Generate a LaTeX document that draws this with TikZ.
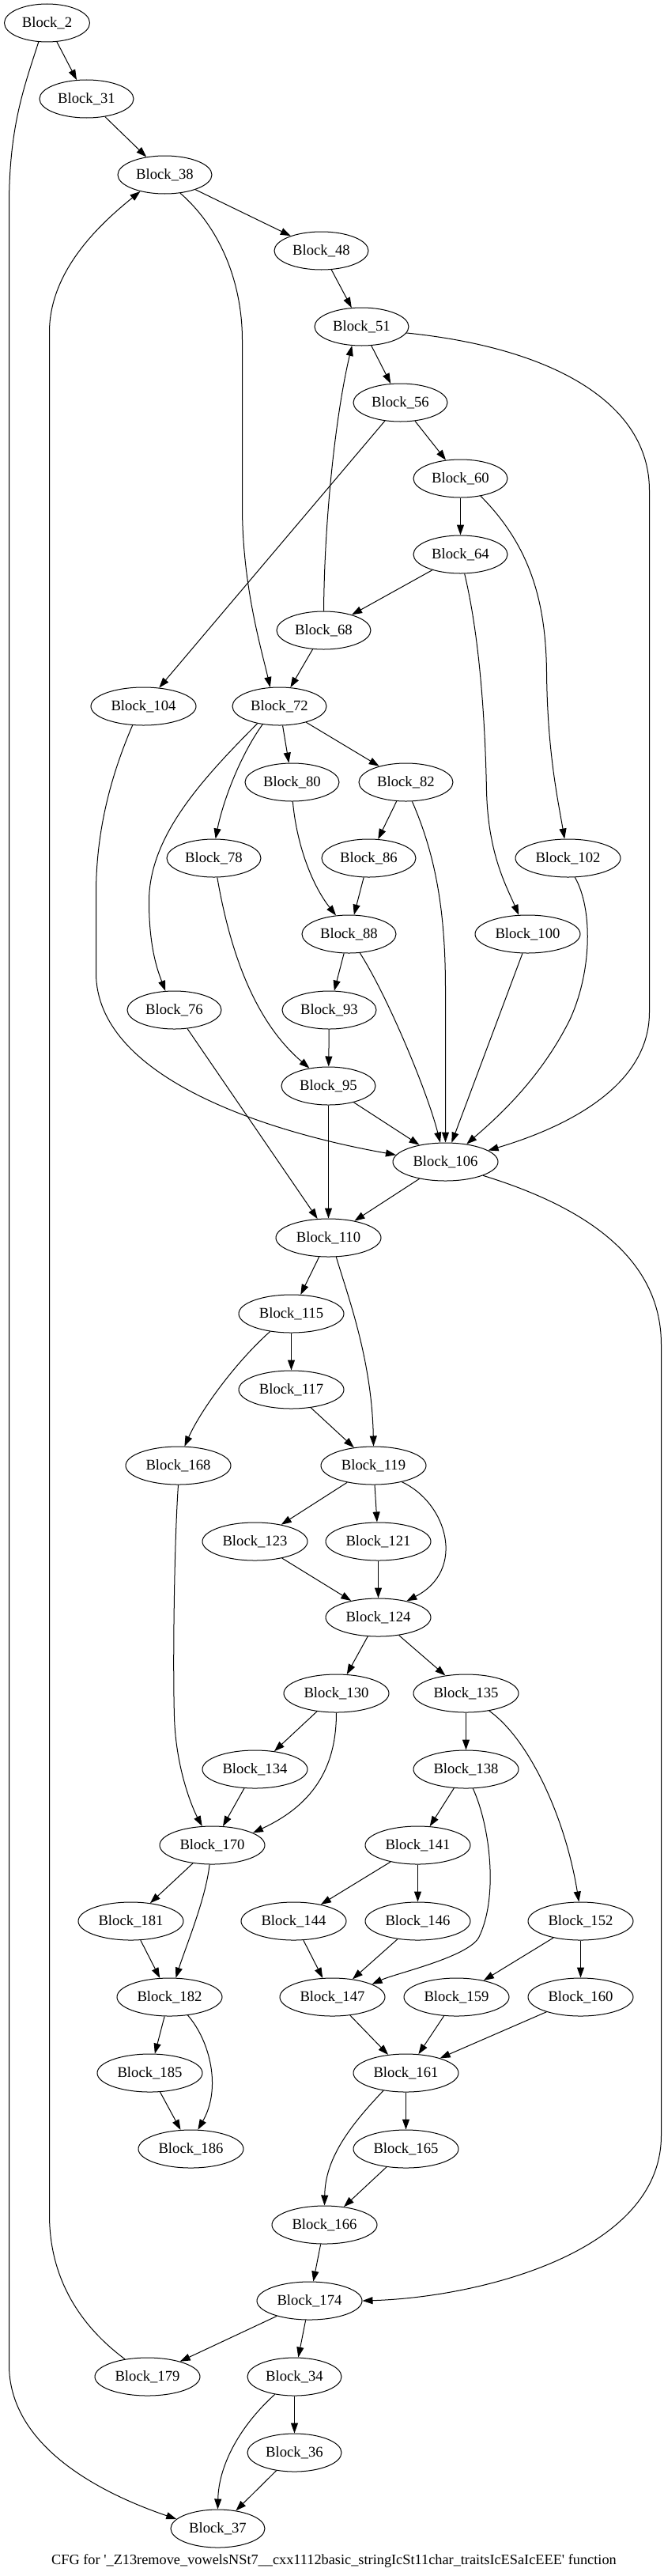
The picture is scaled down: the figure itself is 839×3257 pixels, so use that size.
\documentclass[tikz,border=0pt]{standalone}
\usepackage{fontspec}
\setmainfont{Liberation Serif}[Ligatures=TeXOff]
\usetikzlibrary{shapes.geometric,arrows.meta}
\begin{document}
\begin{tikzpicture}[x=1pt,y=-1pt,
  blk/.style={draw,ellipse,line width=1pt,minimum height=48pt,inner sep=0pt,font=\fontsize{18.67}{22}\selectfont},
  wa/.style={blk,minimum width=108pt},
  wb/.style={blk,minimum width=119pt},
  wc/.style={blk,minimum width=133pt},
  edge/.style={draw,line width=1pt,-{Triangle[length=13pt,width=9pt]}}]
\path[use as bounding box] (-0.5,0) rectangle (838.5,3257);
\node[wa] (b2) at (59,29) {Block\_2};
\node[wb] (b31) at (109,125) {Block\_31};
\node[wb] (b38) at (208,221) {Block\_38};
\node[wb] (b48) at (406,317) {Block\_48};
\node[wb] (b51) at (457,413) {Block\_51};
\node[wb] (b56) at (506,509) {Block\_56};
\node[wb] (b60) at (582,605) {Block\_60};
\node[wb] (b64) at (582,701) {Block\_64};
\node[wb] (b68) at (409,797) {Block\_68};
\node[wc] (b104) at (181,893) {Block\_104};
\node[wb] (b72) at (353,893) {Block\_72};
\node[wb] (b80) at (369,989) {Block\_80};
\node[wb] (b82) at (513,989) {Block\_82};
\node[wb] (b78) at (270,1085) {Block\_78};
\node[wb] (b86) at (466,1085) {Block\_86};
\node[wc] (b102) at (718,1085) {Block\_102};
\node[wb] (b88) at (441,1181) {Block\_88};
\node[wc] (b100) at (667,1181) {Block\_100};
\node[wb] (b76) at (220,1277) {Block\_76};
\node[wb] (b93) at (416,1277) {Block\_93};
\node[wb] (b95) at (415,1373) {Block\_95};
\node[wc] (b106) at (563,1469) {Block\_106};
\node[wc] (b110) at (415,1565) {Block\_110};
\node[wc] (b115) at (368,1661) {Block\_115};
\node[wc] (b117) at (368,1757) {Block\_117};
\node[wc] (b168) at (225,1853) {Block\_168};
\node[wc] (b119) at (472,1853) {Block\_119};
\node[wc] (b123) at (322,1949) {Block\_123};
\node[wc] (b121) at (478,1949) {Block\_121};
\node[wc] (b124) at (478,2045) {Block\_124};
\node[wc] (b130) at (425,2141) {Block\_130};
\node[wc] (b135) at (589,2141) {Block\_135};
\node[wc] (b134) at (322,2237) {Block\_134};
\node[wc] (b138) at (589,2237) {Block\_138};
\node[wc] (b170) at (268,2333) {Block\_170};
\node[wc] (b141) at (528,2333) {Block\_141};
\node[wc] (b181) at (165,2429) {Block\_181};
\node[wc] (b144) at (371,2429) {Block\_144};
\node[wc] (b146) at (528,2429) {Block\_146};
\node[wc] (b152) at (734,2429) {Block\_152};
\node[wc] (b182) at (214,2525) {Block\_182};
\node[wc] (b147) at (420,2525) {Block\_147};
\node[wc] (b159) at (577,2525) {Block\_159};
\node[wc] (b160) at (734,2525) {Block\_160};
\node[wc] (b185) at (189,2621) {Block\_185};
\node[wc] (b161) at (513,2621) {Block\_161};
\node[wc] (b186) at (241,2717) {Block\_186};
\node[wc] (b165) at (513,2717) {Block\_165};
\node[wc] (b166) at (410,2813) {Block\_166};
\node[wc] (b174) at (391,2909) {Block\_174};
\node[wc] (b179) at (186,3005) {Block\_179};
\node[wb] (b34) at (372,3005) {Block\_34};
\node[wb] (b36) at (372,3101) {Block\_36};
\node[wb] (b37) at (275,3197) {Block\_37};
\node[font=\fontsize{18.3}{22}\selectfont,inner sep=0pt] (cap) at (422,3238) {CFG for '\_Z13remove\_vowelsNSt7\_\_cxx1112basic\_stringIcSt11char\_traitsIcESaIcEEE' function};

% straight edges
\path[edge] (b2) -- (b31);
\path[edge] (b31) -- (b38);
\path[edge] (b38) -- (b48);
\path[edge] (b48) -- (b51);
\path[edge] (b51) -- (b56);
\path[edge] (b56) -- (b60);
\path[edge] (b56) -- (b104);
\path[edge] (b60) -- (b64);
\path[edge] (b64) -- (b68);
\path[edge] (b68) -- (b72);
\path[edge] (b72) -- (b80);
\path[edge] (b72) -- (b82);
\path[edge] (b82) -- (b86);
\path[edge] (b86) -- (b88);
\path[edge] (b88) -- (b93);
\path[edge] (b93) -- (b95);
\path[edge] (b95) -- (b106);
\path[edge] (b95) -- (b110);
\path[edge] (b106) -- (b110);
\path[edge] (b76.-55) -- (b110.120);
\path[edge] (b110) -- (b115);
\path[edge] (b115) -- (b117);
\path[edge] (b117) -- (b119);
\path[edge] (b119) -- (b123);
\path[edge] (b119) -- (b121);
\path[edge] (b123) -- (b124);
\path[edge] (b121) -- (b124);
\path[edge] (b124) -- (b130);
\path[edge] (b124) -- (b135);
\path[edge] (b130) -- (b134);
\path[edge] (b134) -- (b170);
\path[edge] (b135) -- (b138);
\path[edge] (b138) -- (b141);
\path[edge] (b170) -- (b181);
\path[edge] (b141) -- (b144);
\path[edge] (b141) -- (b146);
\path[edge] (b152) -- (b159);
\path[edge] (b152) -- (b160);
\path[edge] (b181) -- (b182);
\path[edge] (b144) -- (b147);
\path[edge] (b146) -- (b147);
\path[edge] (b182) -- (b185);
\path[edge] (b147) -- (b161);
\path[edge] (b159) -- (b161);
\path[edge] (b160) -- (b161);
\path[edge] (b185) -- (b186);
\path[edge] (b161) -- (b165);
\path[edge] (b165) -- (b166);
\path[edge] (b166) -- (b174);
\path[edge] (b174) -- (b179);
\path[edge] (b174) -- (b34);
\path[edge] (b34) -- (b36);
\path[edge] (b36) -- (b37);
\path[edge] (b100.-105) -- (b106.72);

% curved edges
\path[edge] (b2.-114) .. controls (30,110) and (11,160) .. (11,260) -- (11,2990) .. controls (11,3090) and (120,3150) .. (b37.167);
\path[edge] (b38.-50) .. controls (280,290) and (306,360) .. (306,430) -- (306,640) .. controls (306,740) and (330,820) .. (b72.116);
\path[edge] (b179.142) .. controls (100,2940) and (62,2880) .. (62,2800) -- (62,420) .. controls (62,340) and (130,280) .. (b38.-146);
\path[edge] (b51.-8) .. controls (700,440) and (821,510) .. (821,620) -- (821,1280) .. controls (821,1380) and (700,1430) .. (b106.15);
\path[edge] (b68.north) .. controls (410,650) and (425,520) .. (b51.-117);
\path[edge] (b60.-41) .. controls (670,690) and (690,760) .. (691,850) .. controls (692,950) and (705,1010) .. (b102.100);
\path[edge] (b64.-78) .. controls (605,800) and (613,900) .. (615,1000) .. controls (617,1080) and (640,1120) .. (b100.115);
\path[edge] (b104.-120) .. controls (140,980) and (121,1050) .. (121,1130) -- (121,1230) .. controls (121,1360) and (330,1430) .. (b106.172);
\path[edge] (b72.-133) .. controls (300,960) and (280,1020) .. (b78.85);
\path[edge] (b72.-142) .. controls (250,990) and (188,1060) .. (188,1140) .. controls (188,1200) and (200,1230) .. (b76.115);
\path[edge] (b80.-88) .. controls (375,1070) and (395,1120) .. (b88.125);
\path[edge] (b82.-72) .. controls (550,1080) and (563,1150) .. (563,1250) -- (b106.north);
\path[edge] (b102.-70) .. controls (750,1150) and (748,1230) .. (720,1290) .. controls (680,1370) and (620,1420) .. (b106.40);
\path[edge] (b78.-80) .. controls (290,1200) and (320,1290) .. (b95.137);
\path[edge] (b88.-60) .. controls (490,1260) and (540,1380) .. (b106.105);
\path[edge] (b106.-20) .. controls (720,1520) and (836,1580) .. (836,1700) -- (836,2700) .. controls (836,2850) and (600,2905) .. (b174.east);
\path[edge] (b110.-68) .. controls (440,1640) and (470,1720) .. (b119.north);
\path[edge] (b115.-140) .. controls (300,1720) and (255,1780) .. (b168.72);
\path[edge] (b168.south) .. controls (220,1950) and (218,2100) .. (220,2170) .. controls (222,2240) and (245,2290) .. (b170.118);
\path[edge] (b119.-30) .. controls (565,1900) and (590,1985) .. (b124.30);
\path[edge] (b130.south) .. controls (425,2230) and (400,2280) .. (b170.17);
\path[edge] (b135.-37) .. controls (670,2200) and (715,2300) .. (b152.95);
\path[edge] (b138.-70) .. controls (620,2310) and (630,2400) .. (605,2450) .. controls (590,2475) and (500,2495) .. (b147.18);
\path[edge] (b170.-98) .. controls (260,2400) and (235,2460) .. (b182.72);
\path[edge] (b182.-45) .. controls (265,2580) and (280,2640) .. (b186.70);
\path[edge] (b161.-142) .. controls (440,2690) and (411,2730) .. (b166.north);
\path[edge] (b34.-138) .. controls (300,3070) and (276,3120) .. (b37.north);
\end{tikzpicture}
\end{document}
